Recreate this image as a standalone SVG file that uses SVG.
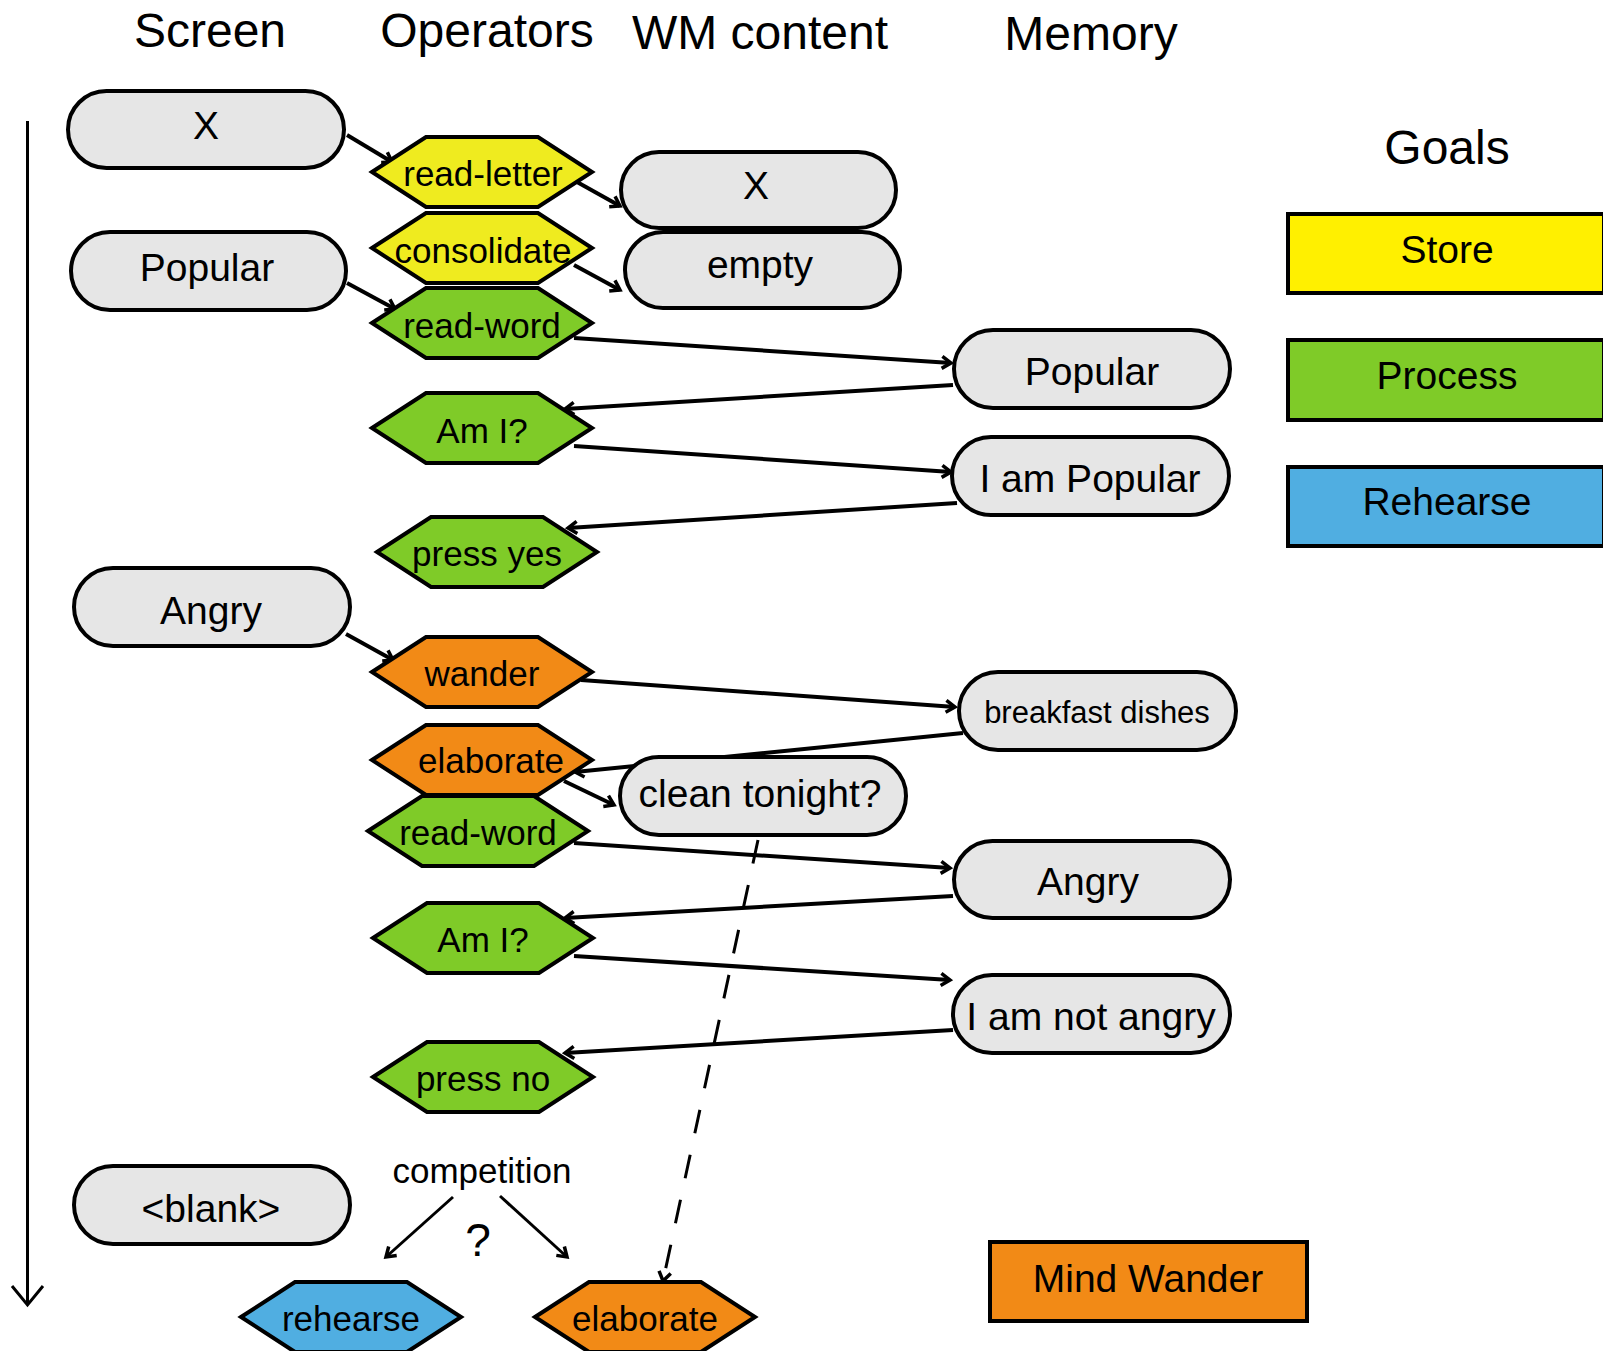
<svg xmlns="http://www.w3.org/2000/svg" xmlns:xlink="http://www.w3.org/1999/xlink" width="1603" height="1351" viewBox="0 0 1603 1351">
<style>
text{font-family:"Liberation Sans",Arial,sans-serif;fill:#000;text-anchor:middle}
.title{font-size:48px}
.nt{font-size:39px}
.ot{font-size:35px}
.pill{fill:#e6e6e6;stroke:#000;stroke-width:4}
.hex{stroke:#000;stroke-width:4;stroke-linejoin:miter}
.y{fill:#efeb1f}
.g{fill:#7fcb28}
.o{fill:#f28a16}
.b{fill:#50aee1}
.goal{stroke:#000;stroke-width:4}
.c{stroke:#000;stroke-width:4;fill:none;marker-end:url(#arr)}
.thin{stroke-width:3}
.dash{stroke-dasharray:24 22}
</style>
<defs>
<polygon id="hexshape" points="-110,0 -56,-35 56,-35 110,0 56,35 -56,35"/>
<marker id="arr" markerWidth="16" markerHeight="16" refX="12" refY="8" orient="auto" markerUnits="userSpaceOnUse">
<path d="M3,2 L12,8 L3,14" fill="none" stroke="#000" stroke-width="3.5"/>
</marker>
</defs>
<rect width="1603" height="1351" fill="#fff"/>

<g id="titles">
<text class="title" x="210" y="47">Screen</text>
<text class="title" x="487" y="47">Operators</text>
<text class="title" x="760" y="49">WM content</text>
<text class="title" x="1091" y="50">Memory</text>
<text class="title" x="1447" y="164">Goals</text>
</g>

<g id="timeline">
<line x1="27.5" y1="121" x2="27.5" y2="1305" stroke="#000" stroke-width="3"/>
<path d="M12,1286 L27.5,1305 L43,1286" fill="none" stroke="#000" stroke-width="3"/>
</g>

<g id="connectors">
<line class="c" x1="347" y1="135" x2="392" y2="162"/>
<line class="c" x1="577" y1="182" x2="620" y2="206"/>
<line class="c" x1="347" y1="283" x2="395" y2="309"/>
<line class="c" x1="574" y1="265" x2="620" y2="290"/>
<line class="c" x1="574" y1="338" x2="951" y2="363"/>
<line class="c" x1="953" y1="385" x2="565" y2="409"/>
<line class="c" x1="574" y1="446" x2="951" y2="472"/>
<line class="c" x1="957" y1="503" x2="568" y2="528"/>
<line class="c" x1="346" y1="634" x2="393" y2="660"/>
<line class="c" x1="581" y1="680" x2="955" y2="707"/>
<line class="c" x1="963" y1="733" x2="575" y2="772"/>
<line class="c" x1="564" y1="781" x2="614" y2="805"/>
<line class="c" x1="574" y1="843" x2="950" y2="868"/>
<line class="c" x1="953" y1="896" x2="565" y2="918"/>
<line class="c" x1="574" y1="956" x2="950" y2="980"/>
<line class="c" x1="953" y1="1030" x2="565" y2="1053"/>
<line class="c thin" x1="453" y1="1197" x2="386" y2="1257"/>
<line class="c thin" x1="500" y1="1196" x2="567" y2="1257"/>
<line class="c thin dash" x1="758" y1="840" x2="663" y2="1281"/>
</g>

<g id="screen-X"><rect class="pill" x="68" y="91" width="276" height="77" rx="38.5"/><text class="nt" x="206" y="139">X</text></g>
<g id="screen-Popular"><rect class="pill" x="71" y="232" width="275" height="78" rx="39"/><text class="nt" x="207" y="281">Popular</text></g>
<g id="screen-Angry"><rect class="pill" x="74" y="568" width="276" height="78" rx="39"/><text class="nt" x="211" y="624">Angry</text></g>
<g id="screen-blank"><rect class="pill" x="74" y="1166" width="276" height="78" rx="39"/><text class="nt" x="211" y="1222">&lt;blank&gt;</text></g>

<g id="op-read-letter"><use href="#hexshape" class="hex y" x="482" y="172"/><text class="ot" x="483" y="186">read-letter</text></g>
<g id="op-consolidate"><use href="#hexshape" class="hex y" x="482" y="248"/><text class="ot" x="483" y="263">consolidate</text></g>
<g id="op-read-word-1"><use href="#hexshape" class="hex g" x="482" y="323"/><text class="ot" x="482" y="338">read-word</text></g>
<g id="op-am-i-1"><use href="#hexshape" class="hex g" x="482" y="428"/><text class="ot" x="482" y="443">Am I?</text></g>
<g id="op-press-yes"><use href="#hexshape" class="hex g" x="487" y="552"/><text class="ot" x="487" y="566">press yes</text></g>
<g id="op-wander"><use href="#hexshape" class="hex o" x="482" y="672"/><text class="ot" x="482" y="686">wander</text></g>
<g id="op-elaborate-1"><use href="#hexshape" class="hex o" x="482" y="760"/><text class="ot" x="491" y="773">elaborate</text></g>
<g id="op-read-word-2"><use href="#hexshape" class="hex g" x="478" y="831"/><text class="ot" x="478" y="845">read-word</text></g>
<g id="op-am-i-2"><use href="#hexshape" class="hex g" x="483" y="938"/><text class="ot" x="483" y="952">Am I?</text></g>
<g id="op-press-no"><use href="#hexshape" class="hex g" x="483" y="1077"/><text class="ot" x="483" y="1091">press no</text></g>
<g id="op-rehearse"><use href="#hexshape" class="hex b" x="351" y="1317"/><text class="ot" x="351" y="1331">rehearse</text></g>
<g id="op-elaborate-2"><use href="#hexshape" class="hex o" x="645" y="1317"/><text class="ot" x="645" y="1331">elaborate</text></g>

<g id="competition"><text class="ot" x="482" y="1183">competition</text><text x="478" y="1256" style="font-size:46px">?</text></g>

<g id="wm-X"><rect class="pill" x="621" y="152" width="275" height="76" rx="38"/><text class="nt" x="756" y="199">X</text></g>
<g id="wm-empty"><rect class="pill" x="625" y="232" width="275" height="76" rx="38"/><text class="nt" x="760" y="278">empty</text></g>
<g id="wm-clean-tonight"><rect class="pill" x="620" y="757" width="286" height="78" rx="39"/><text class="nt" x="760" y="807">clean tonight?</text></g>

<g id="mem-Popular"><rect class="pill" x="954" y="330" width="276" height="78" rx="39"/><text class="nt" x="1092" y="385">Popular</text></g>
<g id="mem-I-am-Popular"><rect class="pill" x="952" y="437" width="277" height="78" rx="39"/><text class="nt" x="1090" y="492">I am Popular</text></g>
<g id="mem-breakfast-dishes"><rect class="pill" x="959" y="672" width="277" height="78" rx="39"/><text x="1097" y="723" style="font-size:31px">breakfast dishes</text></g>
<g id="mem-Angry"><rect class="pill" x="954" y="841" width="276" height="77" rx="38.5"/><text class="nt" x="1088" y="895">Angry</text></g>
<g id="mem-I-am-not-angry"><rect class="pill" x="953" y="975" width="277" height="78" rx="39"/><text class="nt" x="1091" y="1030">I am not angry</text></g>

<g id="goal-Store"><rect class="goal" x="1288" y="214" width="316" height="79" fill="#fff000"/><text class="nt" x="1447" y="263">Store</text></g>
<g id="goal-Process"><rect class="goal" x="1288" y="340" width="316" height="80" fill="#7fcb28"/><text class="nt" x="1447" y="389">Process</text></g>
<g id="goal-Rehearse"><rect class="goal" x="1288" y="467" width="316" height="79" fill="#50aee1"/><text class="nt" x="1447" y="515">Rehearse</text></g>
<g id="goal-Mind-Wander"><rect class="goal" x="990" y="1242" width="317" height="79" fill="#f28a16"/><text class="nt" x="1148" y="1292">Mind Wander</text></g>
</svg>
